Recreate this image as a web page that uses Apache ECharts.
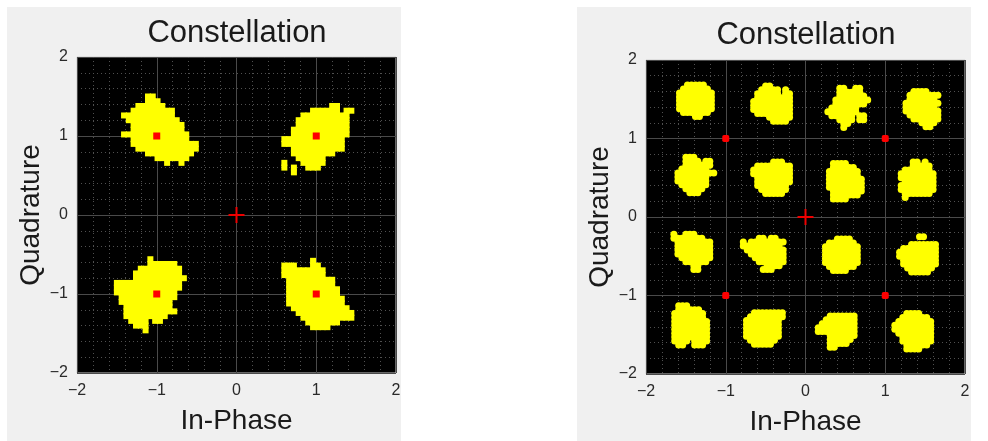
<!DOCTYPE html>
<html>
<head>
<meta charset="utf-8">
<script src="https://cdn.jsdelivr.net/npm/echarts@6/dist/echarts.min.js"></script>
<style>
  html, body { margin: 0; padding: 0; background: #ffffff; }
  #chart { width: 988px; height: 441px; }
</style>
</head>
<body>
<div id="chart"></div>
<script>
// Axis range and tick labels shared by both constellation plots
const axisMin = -2;
const axisMax = 2;
const axisTicks = [-2, -1, 0, 1, 2];

// QPSK received symbols: each cluster is a sample mask ('#' = sample),
// anchored at the top-left sample (I, Q) with a fixed sample pitch.
const qpskPitch = 0.06;
const qpskOrigins = [[-1.41, 1.50], [0.60, 1.38], [-1.50, -0.56], [0.60, -0.58]];
const qpskMasks = [
  [
    ".....##.........",
    ".....###........",
    "...######.......",
    "..#########.....",
    "###########.....",
    ".###########....",
    "..###########...",
    "..###########...",
    "##############..",
    "..############..",
    "..##############",
    "...#############",
    ".....##########.",
    ".......#######..",
    ".........#..#..."
  ],
  [
    "..........##...",
    "......######.##",
    "....##########.",
    "...###########.",
    "...###########.",
    "..############.",
    "..############.",
    "#############..",
    "#############..",
    "..###########..",
    "..#########....",
    "...######......",
    "#...#####......",
    "#.#..###.......",
    "..#............"
  ],
  [
    ".......#.......",
    ".......######..",
    ".....#########.",
    "....##########.",
    "....###########",
    "##############.",
    "##############.",
    "#############..",
    ".############..",
    ".###########...",
    "..##########...",
    "..###########..",
    "..#########....",
    "...####.##.....",
    "....###........",
    "......#........"
  ],
  [
    "......#........",
    "###...##.......",
    "#########......",
    "#########......",
    ".##########....",
    ".##########....",
    ".###########...",
    ".###########...",
    ".############..",
    ".############..",
    "..############.",
    "...############",
    "....###########",
    ".....#######...",
    "......####....."
  ]
];
// QPSK ideal symbol positions
const qpskIdeal = [[1, 1], [-1, 1], [-1, -1], [1, -1]];

// 16-QAM received symbols, same mask encoding
const qamPitch = 0.05;
const qamOrigins = [
  [-1.58, 1.68], [-0.65, 1.67], [0.28, 1.64], [1.26, 1.60],
  [-1.60, 0.76], [-0.65, 0.70], [0.30, 0.68], [1.20, 0.70],
  [-1.65, -0.22], [-0.78, -0.27], [0.25, -0.28], [1.18, -0.25],
  [-1.64, -1.13], [-0.74, -1.22], [0.16, -1.26], [1.12, -1.23]
];
const qamMasks = [
  ["..#####..", ".#######.", "#########", "#########", "#########", "#########", "#########", ".#######.", "....##..."],
  ["...##......", "..#####.#..", ".######.##.", ".#########.", "##########.", "##########.", "##########.", ".#########.", "....######.", ".....####.."],
  ["...##..##..", "...######..", "...#######.", "..#########", "..########.", ".#######...", "########...", ".######.##.", "...####.##.", "....##.....", "....#......"],
  ["..####...", ".########", ".#######.", "#########", "########.", "#########", ".########", "..#######", "....####.", ".....##.."],
  ["..###.....", "..####.##.", "..#######.", ".#######..", "##########", "########..", "########..", ".#######..", "..#####...", "...###...."],
  [".....###..", ".#########", "##########", "##########", ".#########", ".#########", ".########.", "..#######.", "...#####.."],
  [".####....", ".######..", "########.", "########.", "#########", "#########", "#########", ".########", ".#######.", ".####...."],
  ["...##.#..", "...#####.", ".#######.", "#########", "#########", ".########", "#########", "#########", ".#######.", ".#......."],
  ["#..###....", "########..", ".#########", ".#########", ".#########", ".#########", "..########", "...######.", ".....##...", ".....##..."],
  ["....##.##..", "#.#########", "##########.", ".##########", "..#########", "...########", "....#######", "......####.", ".....###..."],
  ["...####..", ".#######.", "#########", "#########", "#########", "#########", "#########", ".#######.", "..####..."],
  [".....##...", "..........", "...#######", ".#########", "##########", "##########", ".#########", ".#########", "..#######.", "...#####.."],
  [".###.....", ".######..", "########.", "########.", "#########", "#########", "#########", "#########", "#########", "####.####", ".##..###."],
  ["..########", ".#########", "#########.", "#########.", "#########.", "#########.", "#########.", ".#######..", "..#####..."],
  ["...#######", "..########", ".#########", "##########", "##########", "...#######", "...######.", "...#####..", "...##....."],
  ["...####...", "..#######.", ".#########", "##########", "##########", ".#########", "..########", "..########", "...######.", "...####..."]
];
// Reference markers drawn on the 16-QAM plot
const qamIdeal = [[1, 1], [-1, 1], [-1, -1], [1, -1]];
const origin = [[0, 0]];

// Expand sample masks into (I, Q) pairs
function maskSamples(origins, masks, pitch) {
  const pts = [];
  masks.forEach(function (rows, k) {
    const x0 = origins[k][0], y0 = origins[k][1];
    rows.forEach(function (row, r) {
      for (let c = 0; c < row.length; c++) {
        if (row[c] === '#') {
          pts.push([+(x0 + c * pitch).toFixed(3), +(y0 - r * pitch).toFixed(3)]);
        }
      }
    });
  });
  return pts;
}

const FONT = '"Liberation Sans", Arial, sans-serif';
// plus-shaped marker for the origin
const crossPath = 'path://M7,0H9V7H16V9H9V16H7V9H0V7H7Z';

function fmtTick(v) {
  return v < 0 ? '\u2212' + Math.abs(v) : String(v);
}

function makeAxis(gridIndex, dim) {
  const isX = dim === 'x';
  return {
    type: 'value',
    gridIndex: gridIndex,
    min: axisMin,
    max: axisMax,
    interval: 1,
    name: isX ? 'In-Phase' : 'Quadrature',
    nameLocation: 'middle',
    nameGap: isX ? 34 : 32,
    nameTextStyle: { fontFamily: FONT, fontSize: 28, color: '#1a1a1a' },
    axisLine: { show: false },
    axisTick: { show: false },
    axisLabel: {
      margin: isX ? 10 : 9,
      fontFamily: FONT,
      fontSize: 16,
      color: '#2a2a2a',
      formatter: function (v) { return axisTicks.indexOf(v) >= 0 ? fmtTick(v) : ''; }
    },
    splitLine: { show: true, lineStyle: { color: '#4a4a4a', width: 1 } },
    minorTick: { show: false, splitNumber: 5 },
    minorSplitLine: { show: true, lineStyle: { color: '#505050', width: 1, type: [1, 3] } }
  };
}

const chart = echarts.init(document.getElementById('chart'), null, { renderer: 'canvas' });

chart.setOption({
  animation: false,
  backgroundColor: '#ffffff',
  graphic: [
    { type: 'rect', z: -10, shape: { x: 7, y: 7, width: 394, height: 434 }, style: { fill: '#f0f0f0' } },
    { type: 'rect', z: -10, shape: { x: 577, y: 7, width: 394, height: 434 }, style: { fill: '#f0f0f0' } },
    { type: 'text', x: 237, y: 33, style: { text: 'Constellation', fontFamily: FONT, fontSize: 31, fill: '#1a1a1a', align: 'center', verticalAlign: 'middle' } },
    { type: 'text', x: 806, y: 35, style: { text: 'Constellation', fontFamily: FONT, fontSize: 31, fill: '#1a1a1a', align: 'center', verticalAlign: 'middle' } }
  ],
  grid: [
    { left: 77, top: 57, width: 319, height: 316, show: true, backgroundColor: '#000000', borderColor: '#cfcfcf', borderWidth: 1 },
    { left: 646, top: 60, width: 319, height: 317, show: true, backgroundColor: '#000000', borderColor: '#cfcfcf', borderWidth: 1 }
  ],
  xAxis: [makeAxis(0, 'x'), makeAxis(1, 'x')],
  yAxis: [makeAxis(0, 'y'), makeAxis(1, 'y')],
  series: [
    {
      type: 'scatter', xAxisIndex: 0, yAxisIndex: 0, silent: true,
      symbol: 'rect', symbolSize: 6,
      itemStyle: { color: '#ffff00', opacity: 1 },
      data: maskSamples(qpskOrigins, qpskMasks, qpskPitch), z: 2
    },
    {
      type: 'scatter', xAxisIndex: 0, yAxisIndex: 0, silent: true,
      symbol: 'rect', symbolSize: 7,
      itemStyle: { color: '#ff0000', opacity: 1 },
      data: qpskIdeal, z: 3
    },
    {
      type: 'scatter', xAxisIndex: 0, yAxisIndex: 0, silent: true,
      symbol: crossPath, symbolSize: 16,
      itemStyle: { color: '#ee0000', opacity: 1 },
      data: origin, z: 3
    },
    {
      type: 'scatter', xAxisIndex: 1, yAxisIndex: 1, silent: true,
      symbol: 'circle', symbolSize: 7,
      itemStyle: { color: '#ffff00', opacity: 1 },
      data: maskSamples(qamOrigins, qamMasks, qamPitch), z: 2
    },
    {
      type: 'scatter', xAxisIndex: 1, yAxisIndex: 1, silent: true,
      symbol: 'roundRect', symbolSize: 7,
      itemStyle: { color: '#ff0000', opacity: 1 },
      data: qamIdeal, z: 3
    },
    {
      type: 'scatter', xAxisIndex: 1, yAxisIndex: 1, silent: true,
      symbol: crossPath, symbolSize: 16,
      itemStyle: { color: '#ee0000', opacity: 1 },
      data: origin, z: 3
    }
  ]
});
</script>
</body>
</html>
